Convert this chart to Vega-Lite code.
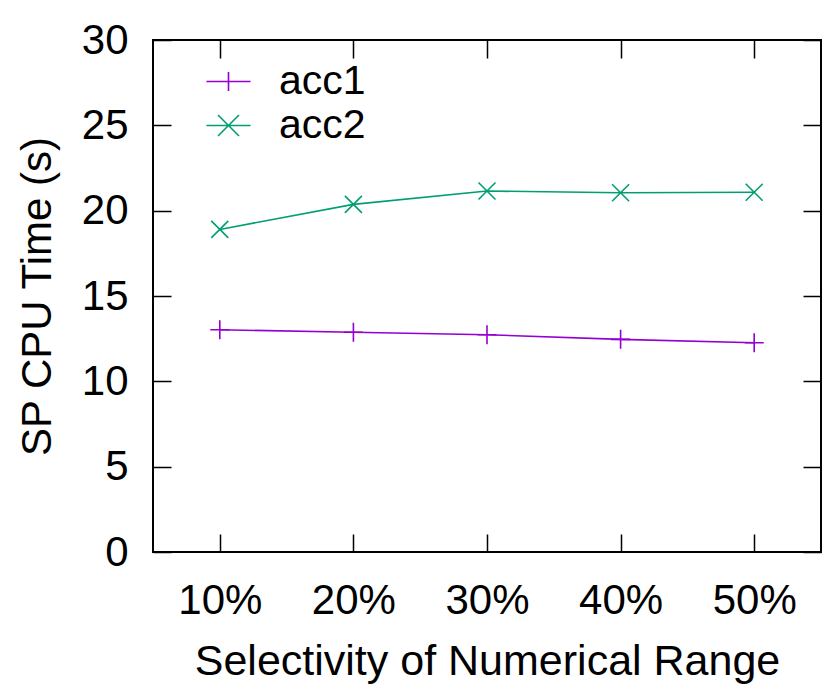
{
  "$schema": "https://vega.github.io/schema/vega-lite/v6.json",
  "autosize": {"type": "none"},
  "padding": {"left": 153, "top": 40, "right": 9, "bottom": 138},
  "width": 668,
  "height": 512,
  "background": "white",
  "config": {
    "font": "Liberation Sans",
    "view": {"stroke": "black", "strokeWidth": 2, "fill": null},
    "axis": {"domain": false, "zindex": 1, "labelFont": "Liberation Sans", "titleFont": "Liberation Sans", "labelColor": "black", "titleColor": "black", "labelFontSize": 42, "titleFontSize": 42, "titleFontWeight": "normal", "ticks": false, "tickSize": 0, "gridColor": "black", "gridOpacity": 1, "gridWidth": 1.5},
    "legend": {"orient": "none", "legendX": 55, "legendY": 21, "title": null, "padding": 0, "symbolSize": 900, "symbolStrokeWidth": 1.6, "symbolFillColor": "transparent", "labelFontSize": 41, "labelFont": "Liberation Sans", "labelColor": "black", "labelOffset": 30, "rowPadding": 2}
  },
  "data": {"values": [
    {"sel": "10%", "series": "acc1", "t": 13.02},
    {"sel": "20%", "series": "acc1", "t": 12.88},
    {"sel": "30%", "series": "acc1", "t": 12.73},
    {"sel": "40%", "series": "acc1", "t": 12.46},
    {"sel": "50%", "series": "acc1", "t": 12.26},
    {"sel": "10%", "series": "acc2", "t": 18.9},
    {"sel": "20%", "series": "acc2", "t": 20.37},
    {"sel": "30%", "series": "acc2", "t": 21.15},
    {"sel": "40%", "series": "acc2", "t": 21.05},
    {"sel": "50%", "series": "acc2", "t": 21.08}
  ]},
  "layer": [
    {
      "mark": {"type": "line", "strokeWidth": 1.6},
      "encoding": {
        "x": {"field": "sel", "type": "ordinal", "sort": null, "scale": {"type": "point", "padding": 0.5},
              "axis": {"orient": "bottom", "title": "Selectivity of Numerical Range", "titleFontSize": 43, "labelAngle": 0, "labelPadding": 28, "titlePadding": 19, "grid": true, "gridDash": [18, 476, 18]}},
        "y": {"field": "t", "type": "quantitative", "scale": {"domain": [0, 30], "nice": false, "zero": true},
              "axis": {"orient": "left", "title": "SP CPU Time (s)", "values": [0, 5, 10, 15, 20, 25, 30], "labelPadding": 25, "titlePadding": 22, "grid": true, "gridDash": [18, 632, 18]}},
        "color": {"field": "series", "type": "nominal", "scale": {"domain": ["acc1", "acc2"], "range": ["#9400D3", "#009E73"]},
                  "legend": {"encode": {"symbols": {"update": {"shape": {"signal": "datum.value === 'acc1' ? 'M-1.47,0L1.47,0M0,-0.63L0,0.63' : 'M-1.47,0L1.47,0M-0.7,-0.7L0.7,0.7M-0.7,0.7L0.7,-0.7'"}, "fill": {"value": "transparent"}}}}}}
      }
    },
    {
      "transform": [{"filter": "datum.series === 'acc1'"}],
      "mark": {"type": "point", "filled": false, "strokeWidth": 1.6, "opacity": 1, "shape": "M-1,0L1,0M0,-1L0,1", "size": 361},
      "encoding": {
        "x": {"field": "sel", "type": "ordinal", "sort": null},
        "y": {"field": "t", "type": "quantitative"},
        "color": {"field": "series", "type": "nominal"}
      }
    },
    {
      "transform": [{"filter": "datum.series === 'acc2'"}],
      "mark": {"type": "point", "filled": false, "strokeWidth": 1.6, "opacity": 1, "shape": "M-1,-1L1,1M-1,1L1,-1", "size": 289},
      "encoding": {
        "x": {"field": "sel", "type": "ordinal", "sort": null},
        "y": {"field": "t", "type": "quantitative"},
        "color": {"field": "series", "type": "nominal"}
      }
    }
  ]
}
